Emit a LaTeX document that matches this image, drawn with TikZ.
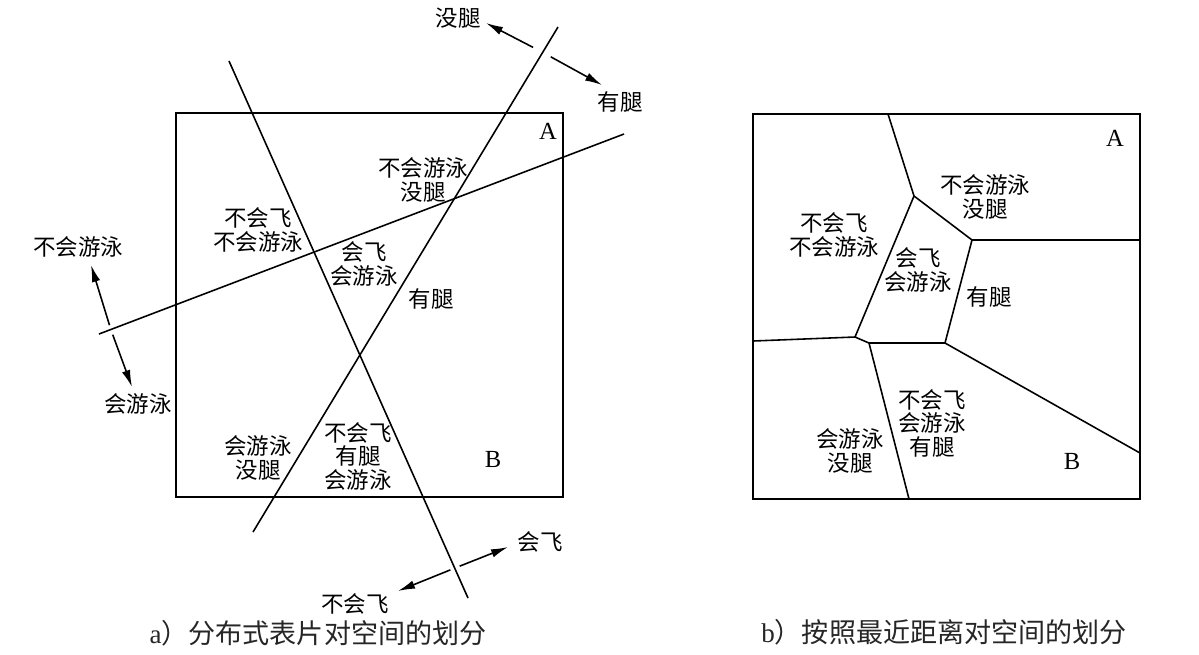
\documentclass[tikz,border=0pt]{standalone}
\usepackage{fontspec}
\setmainfont{Liberation Serif}
\newfontfamily\cjk{Noto Sans CJK SC}
\usetikzlibrary{arrows.meta}

\begin{document}
\begin{tikzpicture}[x=0.02cm,y=-0.02cm]
        \tikzset{region/.style = {font=\cjk\fontsize{12.8}{13.4}\selectfont, align=center, inner sep=0pt}}
        \tikzset{letter/.style = {font=\fontsize{14}{14}\selectfont, inner sep=0pt}}
        \tikzset{frame/.style = {line width=1.1pt}}
        \tikzset{cut/.style = {line width=0.9pt}}
        \tikzset{edge/.style = {-{Latex[length=3.4mm,width=1.7mm]}, line width=0.9pt, shorten <=1mm}}
        \tikzset{caption/.style = {font=\cjk\fontsize{15.4}{16}\selectfont, inner sep=0pt, text=black!85}}
        \useasboundingbox (0,0) rectangle (1199,654);

        % a) frame and cutting lines
        \coordinate (aNW) at (176,113);
        \coordinate (aSE) at (563,497);
        \draw[frame] (aNW) rectangle (aSE);
        \coordinate (fly1) at (229,61);
        \coordinate (fly2) at (468,598);
        \coordinate (leg1) at (558,27);
        \coordinate (leg2) at (253,532);
        \coordinate (swim1) at (99,334);
        \coordinate (swim2) at (624,134);
        \draw[cut] (fly1) -- (fly2);
        \draw[cut] (leg1) -- (leg2);
        \draw[cut] (swim1) -- (swim2);

        % a) labels
        \node[letter] (aA) at (548,131) {A};
        \node[letter] (aB) at (493,459) {B};
        \node[region] (a1) at (423,180) {不会游泳\\没腿};
        \node[region] (a2) at (258,230) {不会飞\\不会游泳};
        \node[region] (a3) at (364,264) {会飞\\会游泳};
        \node[region] (a4) at (431,299) {有腿};
        \node[region] (a5) at (258,458) {会游泳\\没腿};
        \node[region] (a6) at (358,456) {不会飞\\有腿\\会游泳};
        \node[region] (noleg) at (458,18) {没腿};
        \node[region] (hasleg) at (620,102) {有腿};
        \node[region] (noswim) at (78,247) {不会游泳};
        \node[region] (canswim) at (138,404) {会游泳};
        \node[region] (nofly) at (355,604) {不会飞};
        \node[region] (canfly) at (540,542) {会飞};

        % a) arrows
        \coordinate (legX) at (542,52);
        \coordinate (legU) at (486,23);
        \coordinate (legD) at (602,85);
        \coordinate (swimX) at (111,330);
        \coordinate (swimU) at (91,265);
        \coordinate (swimD) at (132,387);
        \coordinate (flyX) at (455,568);
        \coordinate (flyL) at (398,591);
        \coordinate (flyR) at (508,547);
        \draw[edge, shorten <=2mm] (legX) -- (legU);
        \draw[edge, shorten <=2mm] (legX) -- (legD);
        \draw[edge] (swimX) -- (swimU);
        \draw[edge] (swimX) -- (swimD);
        \draw[edge] (flyX) -- (flyL);
        \draw[edge] (flyX) -- (flyR);

        % b) frame and cells
        \coordinate (bNW) at (753,114);
        \coordinate (bSE) at (1140,499);
        \draw[frame] (bNW) rectangle (bSE);
        \coordinate (v1) at (914,196);
        \coordinate (v2) at (972,240);
        \coordinate (v3) at (945,343);
        \coordinate (v4) at (869,343);
        \coordinate (v5) at (855,337);
        \coordinate (eT) at (888,114);
        \coordinate (eR) at (1140,240);
        \coordinate (eL) at (753,341);
        \coordinate (eB) at (909,499);
        \coordinate (eR2) at (1140,453);
        \draw[cut] (eT) -- (v1) -- (v2) -- (eR);
        \draw[cut] (v2) -- (v3) -- (v4) -- (v5) -- (v1);
        \draw[cut] (v5) -- (eL);
        \draw[cut] (v4) -- (eB);
        \draw[cut] (v3) -- (eR2);

        % b) labels
        \node[letter] (bA) at (1115,138) {A};
        \node[letter] (bB) at (1072,461) {B};
        \node[region] (b1) at (985,197) {不会游泳\\没腿};
        \node[region] (b2) at (834,235) {不会飞\\不会游泳};
        \node[region] (b3) at (918,270) {会飞\\会游泳};
        \node[region] (b4) at (989,297) {有腿};
        \node[region] (b5) at (932,423) {不会飞\\会游泳\\有腿};
        \node[region] (b6) at (850,451) {会游泳\\没腿};

        % captions
        \node[caption] (capa) at (318,633) {{\rmfamily a}）分布式表片对空间的划分};
        \node[caption] (capb) at (944,632) {{\rmfamily b}）按照最近距离对空间的划分};
\end{tikzpicture}
\end{document}
